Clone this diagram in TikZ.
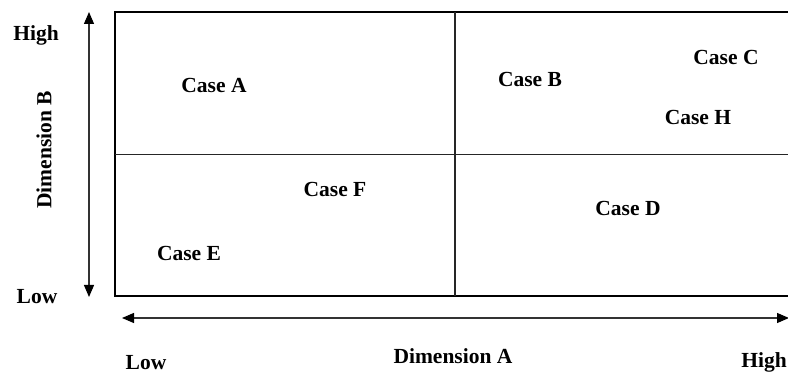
\documentclass[tikz,border=0pt]{standalone}
\usepackage{fontspec}
\setmainfont{Liberation Serif}
\usetikzlibrary{arrows.meta}
\begin{document}
\begin{tikzpicture}[x=1pt,y=-1pt,
  lbl/.style={font=\fontsize{21.5}{25}\selectfont\bfseries, inner sep=0pt, anchor=center},
  axisarrow/.style={draw=black!80, line width=1.1pt, {Triangle[length=12pt,width=10pt,fill=black,color=black]}-{Triangle[length=12pt,width=10pt,fill=black,color=black]}},
  frame/.style={draw=black, line width=1.8pt},
  divider/.style={draw=black!85, line width=1.3pt}]
\useasboundingbox (0,0) rectangle (788,374);
% frame
\coordinate (tr) at (789,12);
\coordinate (tl) at (115,12);
\coordinate (bl) at (115,296);
\coordinate (br) at (789,296);
\draw[frame] (tr) -- (tl) -- (bl) -- (br);
\coordinate (vt) at (455,12);
\coordinate (vb) at (455,296);
\coordinate (hl) at (115,154.5);
\coordinate (hr) at (789,154.5);
\draw[divider] (vt) -- (vb);
\draw[divider] (hl) -- (hr);
% axes
\coordinate (yt) at (89,12);
\coordinate (yb) at (89,297);
\draw[axisarrow] (yb) -- (yt);
\coordinate (xl) at (122,318);
\coordinate (xr) at (789,318);
\draw[axisarrow] (xl) -- (xr);
% axis labels
\node[lbl] (yhigh) at (36,35) {High};
\node[lbl] (ylow) at (37,297) {Low};
\node[lbl, rotate=90] (ydim) at (44,150) {Dimension B};
\node[lbl] (xlow) at (146,363) {Low};
\node[lbl] (xdim) at (453,356) {Dimension A};
\node[lbl] (xhigh) at (764,362) {High};
% cases
\node[lbl] (ca) at (214,85) {Case A};
\node[lbl] (cb) at (530,79) {Case B};
\node[lbl] (cc) at (726,57) {Case C};
\node[lbl] (ch) at (698,117) {Case H};
\node[lbl] (cf) at (335,189) {Case F};
\node[lbl] (cd) at (628,208) {Case D};
\node[lbl] (ce) at (189,253) {Case E};
\end{tikzpicture}
\end{document}
